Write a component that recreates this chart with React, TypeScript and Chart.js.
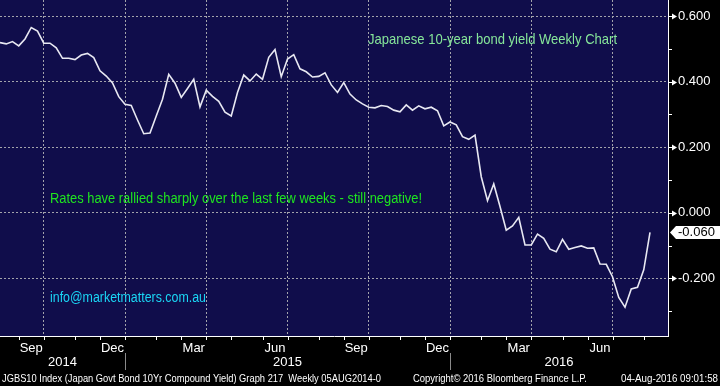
import React, { useEffect, useRef } from 'react';
import { Chart, registerables } from 'chart.js';

Chart.register(...registerables);

// ---------- data ----------
const START_YEAR = 2014;
const START_MONTH = 7; // August (0-based)
const START_DAY = 8; // first weekly close, Fri 8 Aug 2014

const yields = [
  0.519, 0.515, 0.522, 0.509, 0.530, 0.565, 0.554, 0.517, 0.517, 0.503,
  0.471, 0.471, 0.467, 0.481, 0.486, 0.473, 0.433, 0.417, 0.396, 0.354,
  0.331, 0.327, 0.283, 0.241, 0.243, 0.295, 0.346, 0.422, 0.395, 0.352,
  0.379, 0.407, 0.323, 0.374, 0.355, 0.340, 0.307, 0.295, 0.367, 0.420,
  0.402, 0.423, 0.407, 0.474, 0.498, 0.415, 0.469, 0.482, 0.439, 0.430,
  0.414, 0.416, 0.427, 0.390, 0.367, 0.397, 0.362, 0.344, 0.332, 0.322,
  0.320, 0.327, 0.324, 0.313, 0.308, 0.329, 0.313, 0.326, 0.317, 0.322,
  0.311, 0.265, 0.277, 0.268, 0.232, 0.224, 0.237, 0.110, 0.037, 0.088,
  0.019, -0.053, -0.040, -0.014, -0.098, -0.098, -0.065, -0.078, -0.111, -0.119,
  -0.081, -0.111, -0.106, -0.101, -0.108, -0.107, -0.156, -0.157, -0.195, -0.258,
  -0.288, -0.232, -0.227, -0.174, -0.060,
];

const yTicks = [-0.2, 0, 0.2, 0.4, 0.6];
const yMinorTicks = [-0.3, -0.1, 0.1, 0.3, 0.5];
const monthNames = ['Jan', 'Feb', 'Mar', 'Apr', 'May', 'Jun', 'Jul', 'Aug', 'Sep', 'Oct', 'Nov', 'Dec'];
const labelledMonths = ['Mar', 'Jun', 'Sep', 'Dec'];

const Y_MIN = -0.3756;
const Y_MAX = 0.6488;
const X_MIN = 0;
const X_MAX = 106.88;

const titleText = 'Japanese 10-year bond yield Weekly Chart';
const noteText = 'Rates have rallied sharply over the last few weeks - still negative!';
const contactText = 'info@marketmatters.com.au';
const footerLeft = 'JGBS10 Index (Japan Govt Bond 10Yr Compound Yield) Graph 217  Weekly 05AUG2014-0';
const footerMid = 'Copyright\u00A9 2016 Bloomberg Finance L.P.';
const footerRight = '04-Aug-2016 09:01:58';

// ---------- derived calendar ----------
const weekDates = yields.map((_, i) => new Date(Date.UTC(START_YEAR, START_MONTH, START_DAY + 7 * i)));
const monthEnds: number[] = [];
for (let i = 0; i < weekDates.length - 1; i++) {
  if (weekDates[i].getUTCMonth() !== weekDates[i + 1].getUTCMonth()) monthEnds.push(i);
}
const quarterEnds = monthEnds.filter((i) => labelledMonths.includes(monthNames[weekDates[i].getUTCMonth()]));
const yearEnds = monthEnds.filter((i) => weekDates[i].getUTCMonth() === 11);
const monthLabelTicks = quarterEnds.map((i) => {
  const k = monthEnds.indexOf(i);
  const prev = k > 0 ? monthEnds[k - 1] : 0;
  return { value: (prev + i) / 2, label: monthNames[weekDates[i].getUTCMonth()] };
});
const gridSet = new Set(quarterEnds);
const labelMap = new Map(monthLabelTicks.map((t) => [t.value, t.label]));

const FONT = "'Liberation Sans', Arial, sans-serif";
const NAVY = '#100d4b';
const GRID = '#a3a3ab';

function fitText(ctx: CanvasRenderingContext2D, text: string, x: number, y: number, w: number) {
  const m = ctx.measureText(text).width;
  ctx.save();
  ctx.translate(x, y);
  ctx.scale(w / m, 1);
  ctx.textAlign = 'left';
  ctx.fillText(text, 0, 0);
  ctx.restore();
}

const decorPlugin = {
  id: 'decor',
  beforeDraw(chart: any) {
    const { ctx, chartArea: a, width, height } = chart;
    ctx.save();
    ctx.fillStyle = '#000';
    ctx.fillRect(0, 0, width, height);
    ctx.fillStyle = NAVY;
    ctx.fillRect(a.left, a.top, a.right - a.left, a.bottom - a.top);
    ctx.restore();
  },
  afterDraw(chart: any) {
    const { ctx, chartArea: a, width } = chart;
    const xs = chart.scales.x;
    const ys = chart.scales.y;
    ctx.save();

    // month tick marks
    ctx.strokeStyle = '#fff';
    ctx.lineWidth = 1;
    monthEnds.forEach((i) => {
      const px = Math.round(xs.getPixelForValue(i)) + 0.5;
      ctx.beginPath();
      ctx.moveTo(px, a.bottom);
      ctx.lineTo(px, a.bottom + 4);
      ctx.stroke();
    });

    // year separators + year labels
    ctx.strokeStyle = '#8a8a8a';
    yearEnds.forEach((i) => {
      const px = Math.round(xs.getPixelForValue(i)) + 0.5;
      ctx.beginPath();
      ctx.moveTo(px, a.bottom + 17);
      ctx.lineTo(px, a.bottom + 34);
      ctx.stroke();
    });
    const bounds = [a.left, ...yearEnds.map((i) => xs.getPixelForValue(i)), a.right];
    const firstYear = weekDates[0].getUTCFullYear();
    ctx.fillStyle = '#fff';
    ctx.font = `13px ${FONT}`;
    ctx.textAlign = 'center';
    ctx.textBaseline = 'middle';
    for (let k = 0; k < bounds.length - 1; k++) {
      ctx.fillText(String(firstYear + k), (bounds[k] + bounds[k + 1]) / 2, a.bottom + 26.5);
    }

    // y axis minor ticks and arrows
    ctx.strokeStyle = '#fff';
    yMinorTicks.forEach((v) => {
      const py = Math.round(ys.getPixelForValue(v)) + 0.5;
      ctx.beginPath();
      ctx.moveTo(a.right, py);
      ctx.lineTo(a.right + 4, py);
      ctx.stroke();
    });
    ctx.fillStyle = '#fff';
    yTicks.forEach((v) => {
      const py = Math.round(ys.getPixelForValue(v)) + 0.5;
      ctx.beginPath();
      ctx.moveTo(a.right, py);
      ctx.lineTo(a.right + 5, py);
      ctx.stroke();
      ctx.beginPath();
      ctx.moveTo(a.right + 4, py - 3);
      ctx.lineTo(a.right + 9, py);
      ctx.lineTo(a.right + 4, py + 3);
      ctx.closePath();
      ctx.fill();
    });

    // last value box
    const last = yields[yields.length - 1];
    const yv = ys.getPixelForValue(last);
    ctx.fillStyle = '#fff';
    ctx.beginPath();
    ctx.moveTo(a.right + 2, yv);
    ctx.lineTo(a.right + 8, yv - 6.5);
    ctx.lineTo(width, yv - 6.5);
    ctx.lineTo(width, yv + 6.5);
    ctx.lineTo(a.right + 8, yv + 6.5);
    ctx.closePath();
    ctx.fill();
    ctx.fillStyle = '#000';
    ctx.font = `13px ${FONT}`;
    ctx.textAlign = 'left';
    ctx.textBaseline = 'middle';
    ctx.fillText(last.toFixed(3), a.right + 10, yv);

    // annotations
    ctx.textBaseline = 'middle';
    ctx.font = `15px ${FONT}`;
    ctx.fillStyle = '#86e69a';
    fitText(ctx, titleText, 368, 40, 249);
    ctx.font = `14px ${FONT}`;
    ctx.fillStyle = '#1fe61f';
    fitText(ctx, noteText, 50, 199, 372);
    ctx.fillStyle = '#1ad6f5';
    fitText(ctx, contactText, 50, 298.5, 156);

    // footer
    ctx.font = `11px ${FONT}`;
    ctx.fillStyle = '#fff';
    fitText(ctx, footerLeft, 2, 379, 379);
    fitText(ctx, footerMid, 413, 379, 174);
    fitText(ctx, footerRight, 621, 379, 97);

    ctx.restore();
  },
};

export default function App() {
  const ref = useRef<HTMLCanvasElement | null>(null);

  useEffect(() => {
    document.body.style.margin = '0';
    const canvas = ref.current;
    if (!canvas) return;
    const chart = new Chart(canvas, {
      type: 'line',
      data: {
        datasets: [
          {
            data: yields.map((y, i) => ({ x: i, y })),
            borderColor: '#e8e8f2',
            borderWidth: 1.6,
            pointRadius: 0,
            tension: 0,
            fill: false,
          },
        ],
      },
      options: {
        animation: false,
        responsive: false,
        maintainAspectRatio: false,
        devicePixelRatio: 1,
        layout: { padding: 0 },
        plugins: { legend: { display: false }, title: { display: false }, tooltip: { enabled: false } },
        events: [],
        scales: {
          x: {
            type: 'linear',
            position: 'bottom',
            min: X_MIN,
            max: X_MAX,
            bounds: 'data',
            afterBuildTicks: (scale: any) => {
              const vals = [...quarterEnds, ...monthLabelTicks.map((t) => t.value)].sort((p, q) => p - q);
              scale.ticks = vals.map((v) => ({ value: v }));
            },
            afterFit: (scale: any) => {
              scale.height = 50;
              scale.paddingLeft = 0;
              scale.paddingRight = 0;
            },
            grid: {
              drawTicks: false,
              lineWidth: 1,
              color: (c: any) => (c.tick && gridSet.has(c.tick.value) ? GRID : 'rgba(0,0,0,0)'),
            },
            border: { display: true, color: '#ffffff', width: 1, dash: [2, 2] },
            ticks: {
              autoSkip: false,
              maxRotation: 0,
              minRotation: 0,
              padding: 5,
              color: '#ffffff',
              font: { family: FONT, size: 13 },
              callback: (v: any) => labelMap.get(Number(v)) ?? '',
            },
          },
          y: {
            type: 'linear',
            position: 'right',
            min: Y_MIN,
            max: Y_MAX,
            bounds: 'data',
            afterBuildTicks: (scale: any) => {
              scale.ticks = yTicks.map((v) => ({ value: v }));
            },
            afterFit: (scale: any) => {
              scale.width = 52;
              scale.paddingTop = 0;
              scale.paddingBottom = 0;
            },
            grid: { drawTicks: false, lineWidth: 1, color: GRID },
            border: { display: true, color: '#ffffff', width: 1, dash: [2, 2] },
            ticks: {
              padding: 10,
              color: '#ffffff',
              font: { family: FONT, size: 13 },
              callback: (v: any) => Number(v).toFixed(3),
            },
          },
        },
      },
      plugins: [decorPlugin],
    } as any);
    return () => chart.destroy();
  }, []);

  return (
    <div style={{ position: 'fixed', left: 0, top: 0, width: 720, height: 386, background: '#000' }}>
      <canvas ref={ref} width={720} height={386} style={{ display: 'block', width: 720, height: 386 }} />
    </div>
  );
}
